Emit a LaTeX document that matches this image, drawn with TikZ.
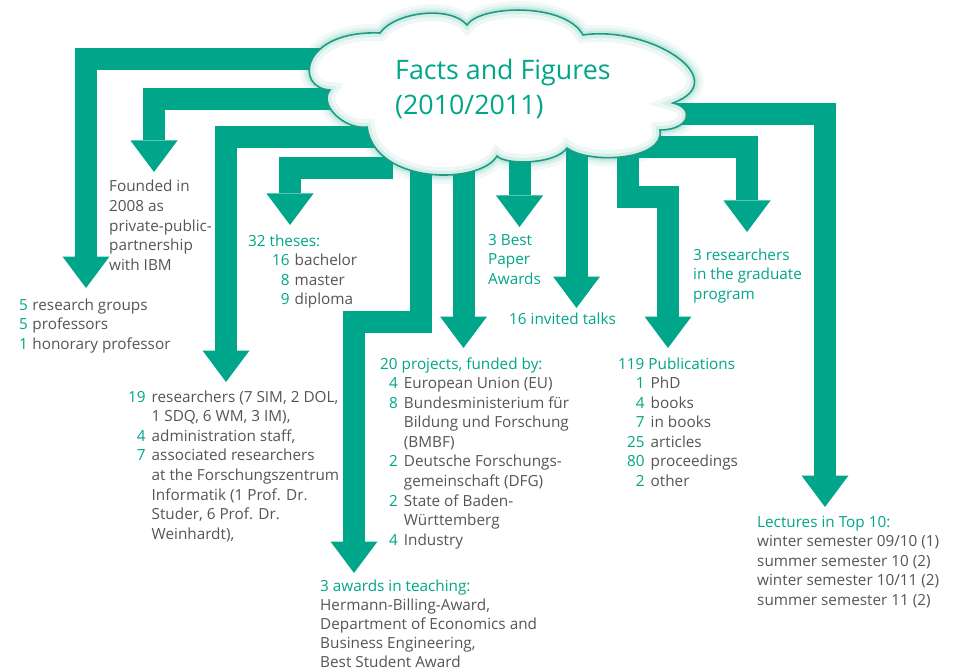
\documentclass[tikz,border=0pt]{standalone}
\usepackage{fontspec}
\setmainfont{Open Sans}
\usetikzlibrary{arrows.meta}
\definecolor{kit}{RGB}{0,166,138}
\definecolor{kitline}{RGB}{30,155,130}
\definecolor{txtgray}{RGB}{85,85,85}
\newcommand{\tn}[1]{\textcolor{kit}{#1}}
\newcommand{\cloudpath}{(330,90) .. controls (294,88) and (301,30) .. (380,33)
  .. controls (395,12) and (450,5) .. (467,25)
  .. controls (480,5) and (565,2) .. (583,35)
  .. controls (650,25) and (735,80) .. (673,103)
  .. controls (695,108) and (690,130) .. (660,130)
  .. controls (665,160) and (590,165) .. (567,148)
  .. controls (555,165) and (505,165) .. (497,156)
  .. controls (480,185) and (375,185) .. (367,127)
  .. controls (345,130) and (318,105) .. (330,90) -- cycle}
\begin{document}
\begin{tikzpicture}[x=1pt,y=-1pt,
  bigarrow/.style={draw=kit, line width=22pt, line join=miter,
    -{Triangle[width=47pt,length=31.5pt,line width=0pt]}},
  txtnode/.style={anchor=base west, inner sep=0pt, text=txtgray,
    font=\fontsize{15.3}{19.6}\selectfont},
  tealnode/.style={txtnode, text=kit}]
\useasboundingbox (0,0) rectangle (958,671);
\fill[white] (0,0) rectangle (958,671);

% start points (under the cloud) and tips
\coordinate (s1) at (360,59);   \coordinate (t1) at (86,288);
\coordinate (s2) at (370,99);   \coordinate (t2) at (154,172);
\coordinate (s3) at (400,137);  \coordinate (t3) at (226,382);
\coordinate (s4) at (393,168);  \coordinate (t4) at (290,225);
\coordinate (s5) at (421,150);  \coordinate (c5) at (354,322); \coordinate (t5) at (354,573);
\coordinate (s6) at (463.5,150);\coordinate (t6) at (463.5,348);
\coordinate (s7) at (519.5,140);\coordinate (t7) at (519.5,227);
\coordinate (s8) at (576.5,140);\coordinate (t8) at (576.5,308);
\coordinate (s9) at (627.5,145);\coordinate (c9) at (668,197.5); \coordinate (t9) at (668,348);
\coordinate (s10) at (600,147.5);\coordinate (t10) at (747,232);
\coordinate (s11) at (640,114); \coordinate (t11) at (825,507);

\draw[bigarrow] (s1) -| (t1);
\draw[bigarrow] (s2) -| (t2);
\draw[bigarrow] (s3) -| (t3);
\draw[bigarrow] (s4) -| (t4);
\draw[bigarrow] (s5) |- (c5) -- (t5);
\draw[bigarrow] (s6) -- (t6);
\draw[bigarrow] (s7) -- (t7);
\draw[bigarrow] (s8) -- (t8);
\draw[bigarrow] (s9) |- (c9) -- (t9);
\draw[bigarrow] (s10) -| (t10);
\draw[bigarrow] (s11) -| (t11);

% cloud with glow
\draw[kit, opacity=0.06, line width=18pt, line join=round] \cloudpath;
\draw[kit, opacity=0.08, line width=11pt, line join=round] \cloudpath;
\draw[kit, opacity=0.12, line width=6pt, line join=round] \cloudpath;
\fill[white] \cloudpath;
\begin{scope}
  \clip \cloudpath;
  \draw[kit, opacity=0.07, line width=16pt] \cloudpath;
  \draw[kit, opacity=0.10, line width=8pt] \cloudpath;
\end{scope}
\draw[kitline, line width=1.6pt] \cloudpath;

\node[anchor=base west, inner sep=0pt, text=kit, font=\fontsize{26.8}{34.5}\selectfont] (title) at (395,80)
  {\begin{tabular}[t]{@{}l@{}}Facts and Figures\\(2010/2011)\end{tabular}};

% texts
\node[txtnode] (groups) at (19,310) {\begin{tabular}[t]{@{}r@{\hspace{4.5pt}}l@{}}
\tn{5} & research groups\\ \tn{5} & professors\\ \tn{1} & honorary professor\end{tabular}};

\node[txtnode] (founded) at (109,192) {\begin{tabular}[t]{@{}l@{}}
Founded in\\ 2008 as\\ private-public-\\ partnership\\ with IBM\end{tabular}};

\node[tealnode] (theseshead) at (248,246) {32 theses:};
\node[txtnode] (theses) at (272,265.5) {\begin{tabular}[t]{@{}r@{\hspace{5pt}}l@{}}
\tn{16} & bachelor\\ \tn{8} & master\\ \tn{9} & diploma\end{tabular}};

\node[txtnode] (staff) at (128,402) {\begin{tabular}[t]{@{}r@{\hspace{6pt}}l@{}}
\tn{19} & researchers (7 SIM, 2 DOL,\\
 & 1 SDQ, 6 WM, 3 IM),\\
\tn{4} & administration staff,\\
\tn{7} & associated researchers\\
 & at the Forschungszentrum\\
 & Informatik (1 Prof. Dr.\\
 & Studer, 6 Prof. Dr.\\
 & Weinhardt),\end{tabular}};

\node[tealnode] (projhead) at (380,369) {20 projects, funded by:};
\node[txtnode] (projects) at (389,388.5) {\begin{tabular}[t]{@{}r@{\hspace{6pt}}l@{}}
\tn{4} & European Union (EU)\\
\tn{8} & Bundesministerium für\\
 & Bildung und Forschung\\
 & (BMBF)\\
\tn{2} & Deutsche Forschungs-\\
 & gemeinschaft (DFG)\\
\tn{2} & State of Baden-\\
 & Württemberg\\
\tn{4} & Industry\end{tabular}};

\node[txtnode, font=\fontsize{15.3}{19}\selectfont] (teaching) at (320,591) {\begin{tabular}[t]{@{}l@{}}
\tn{3 awards in teaching:}\\
Hermann-Billing-Award,\\
Department of Economics and\\
Business Engineering,\\
Best Student Award\end{tabular}};

\node[tealnode] (paper) at (488,245) {\begin{tabular}[t]{@{}l@{}}3 Best\\ Paper\\ Awards\end{tabular}};

\node[tealnode] (talks) at (509,324) {16 invited talks};

\node[tealnode] (pubhead) at (618,369) {119 Publications};
\node[txtnode] (pubs) at (627,388.5) {\begin{tabular}[t]{@{}r@{\hspace{6pt}}l@{}}
\tn{1} & PhD\\ \tn{4} & books\\ \tn{7} & in books\\ \tn{25} & articles\\
\tn{80} & proceedings\\ \tn{2} & other\end{tabular}};

\node[tealnode] (grad) at (693,260) {\begin{tabular}[t]{@{}l@{}}3 researchers\\ in the graduate\\ program\end{tabular}};

\node[txtnode] (lectures) at (757,527) {\begin{tabular}[t]{@{}l@{}}
\tn{Lectures in Top 10:}\\
winter semester 09/10 (1)\\
summer semester 10 (2)\\
winter semester 10/11 (2)\\
summer semester 11 (2)\end{tabular}};
\end{tikzpicture}
\end{document}
